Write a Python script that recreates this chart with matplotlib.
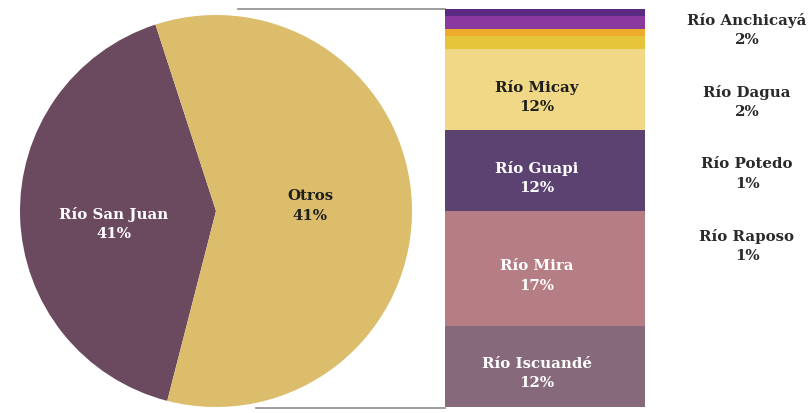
import matplotlib

matplotlib.use("Agg")

import matplotlib.pyplot as plt
import numpy as np

plt.rcParams["font.family"] = ["DejaVu Serif"]
plt.rcParams["font.weight"] = "bold"

# pie: main river vs. the rest
pie_labels = ["Río San Juan", "Otros"]
pie_pct_text = ["41%", "41%"]
san_juan = 41

# breakdown of "Otros", bottom to top of the stacked bar
bar_labels = ["Río Iscuandé", "Río Mira", "Río Guapi", "Río Micay",
              "Río Dagua", "Río Potedo", "Río Anchicayá", "Río Raposo"]
bar_values = [12, 17, 12, 12, 2, 1, 2, 1]
bar_colors = ["#86697a", "#b57e84", "#5b4270", "#f1d886",
              "#e5c53a", "#efac2c", "#8a3a9e", "#5a2a80"]
bar_text_colors = ["white", "white", "white", "#1e1e1e"]

# small items listed at the right
side_labels = ["Río Anchicayá", "Río Dagua", "Río Potedo", "Río Raposo"]
side_values = [2, 2, 1, 1]

otros = sum(bar_values)
pie_values = [san_juan, otros]
pie_colors = ["#6b4a5f", "#dcbd6c"]

W, H = 809, 414
fig = plt.figure(figsize=(W / 100, H / 100), dpi=100)
fig.patch.set_facecolor("white")

FS = 10.8


def px_axes(x0, y0, x1, y1):
    return fig.add_axes([x0 / W, 1 - y1 / H, (x1 - x0) / W, (y1 - y0) / H])


# background layer for connector lines and side labels
bg = px_axes(0, 0, W, H)
bg.set_xlim(0, W)
bg.set_ylim(H, 0)
bg.axis("off")

# pie
pie_box = (20, 16, 412, 408)
ax_pie = px_axes(*pie_box)
wedges, _ = ax_pie.pie(pie_values, colors=pie_colors, startangle=108,
                       counterclock=True, radius=1.0,
                       wedgeprops=dict(linewidth=0))
ax_pie.set_xlim(-1, 1)
ax_pie.set_ylim(-1, 1)
ax_pie.set_aspect("equal")

label_pos = [(-0.52, -0.06), (0.48, 0.03)]
for (lx, ly), name, pct, col in zip(label_pos, pie_labels, pie_pct_text,
                                    ["white", "#1e1e1e"]):
    ax_pie.text(lx, ly, f"{name}\n{pct}", ha="center", va="center",
                fontsize=FS, color=col, linespacing=1.5)

# stacked bar
bar_box = (445, 10, 645, 408)
ax_bar = px_axes(*bar_box)
bottoms = np.concatenate([[0], np.cumsum(bar_values)[:-1]])
ax_bar.bar(np.zeros(len(bar_values)), bar_values, bottom=bottoms, width=1.0,
           color=bar_colors, linewidth=0)
ax_bar.set_xlim(-0.5, 0.5)
ax_bar.set_ylim(0, otros)
ax_bar.axis("off")

for i, col in enumerate(bar_text_colors):
    yc = bottoms[i] + bar_values[i] / 2 - 0.9
    ax_bar.text(-0.04, yc, f"{bar_labels[i]}\n{bar_values[i]}%", ha="center",
                va="center", fontsize=FS, color=col, linespacing=1.5)

# connector lines from the pie to the bar
cx = (pie_box[0] + pie_box[2]) / 2
bg.plot([cx + 22, bar_box[0]], [bar_box[1], bar_box[1]], color="#8e8e8e", lw=1.2)
bg.plot([cx + 40, bar_box[0]], [bar_box[3] + 1, bar_box[3] + 1],
        color="#8e8e8e", lw=1.2)

for i, (name, val) in enumerate(zip(side_labels, side_values)):
    y = 30 + i * 72
    bg.text(747, y, f"{name}\n{val}%", ha="center", va="center", fontsize=FS,
            color="#2a2a2a", linespacing=1.5)

fig.savefig("out.png", dpi=100, facecolor="white")
